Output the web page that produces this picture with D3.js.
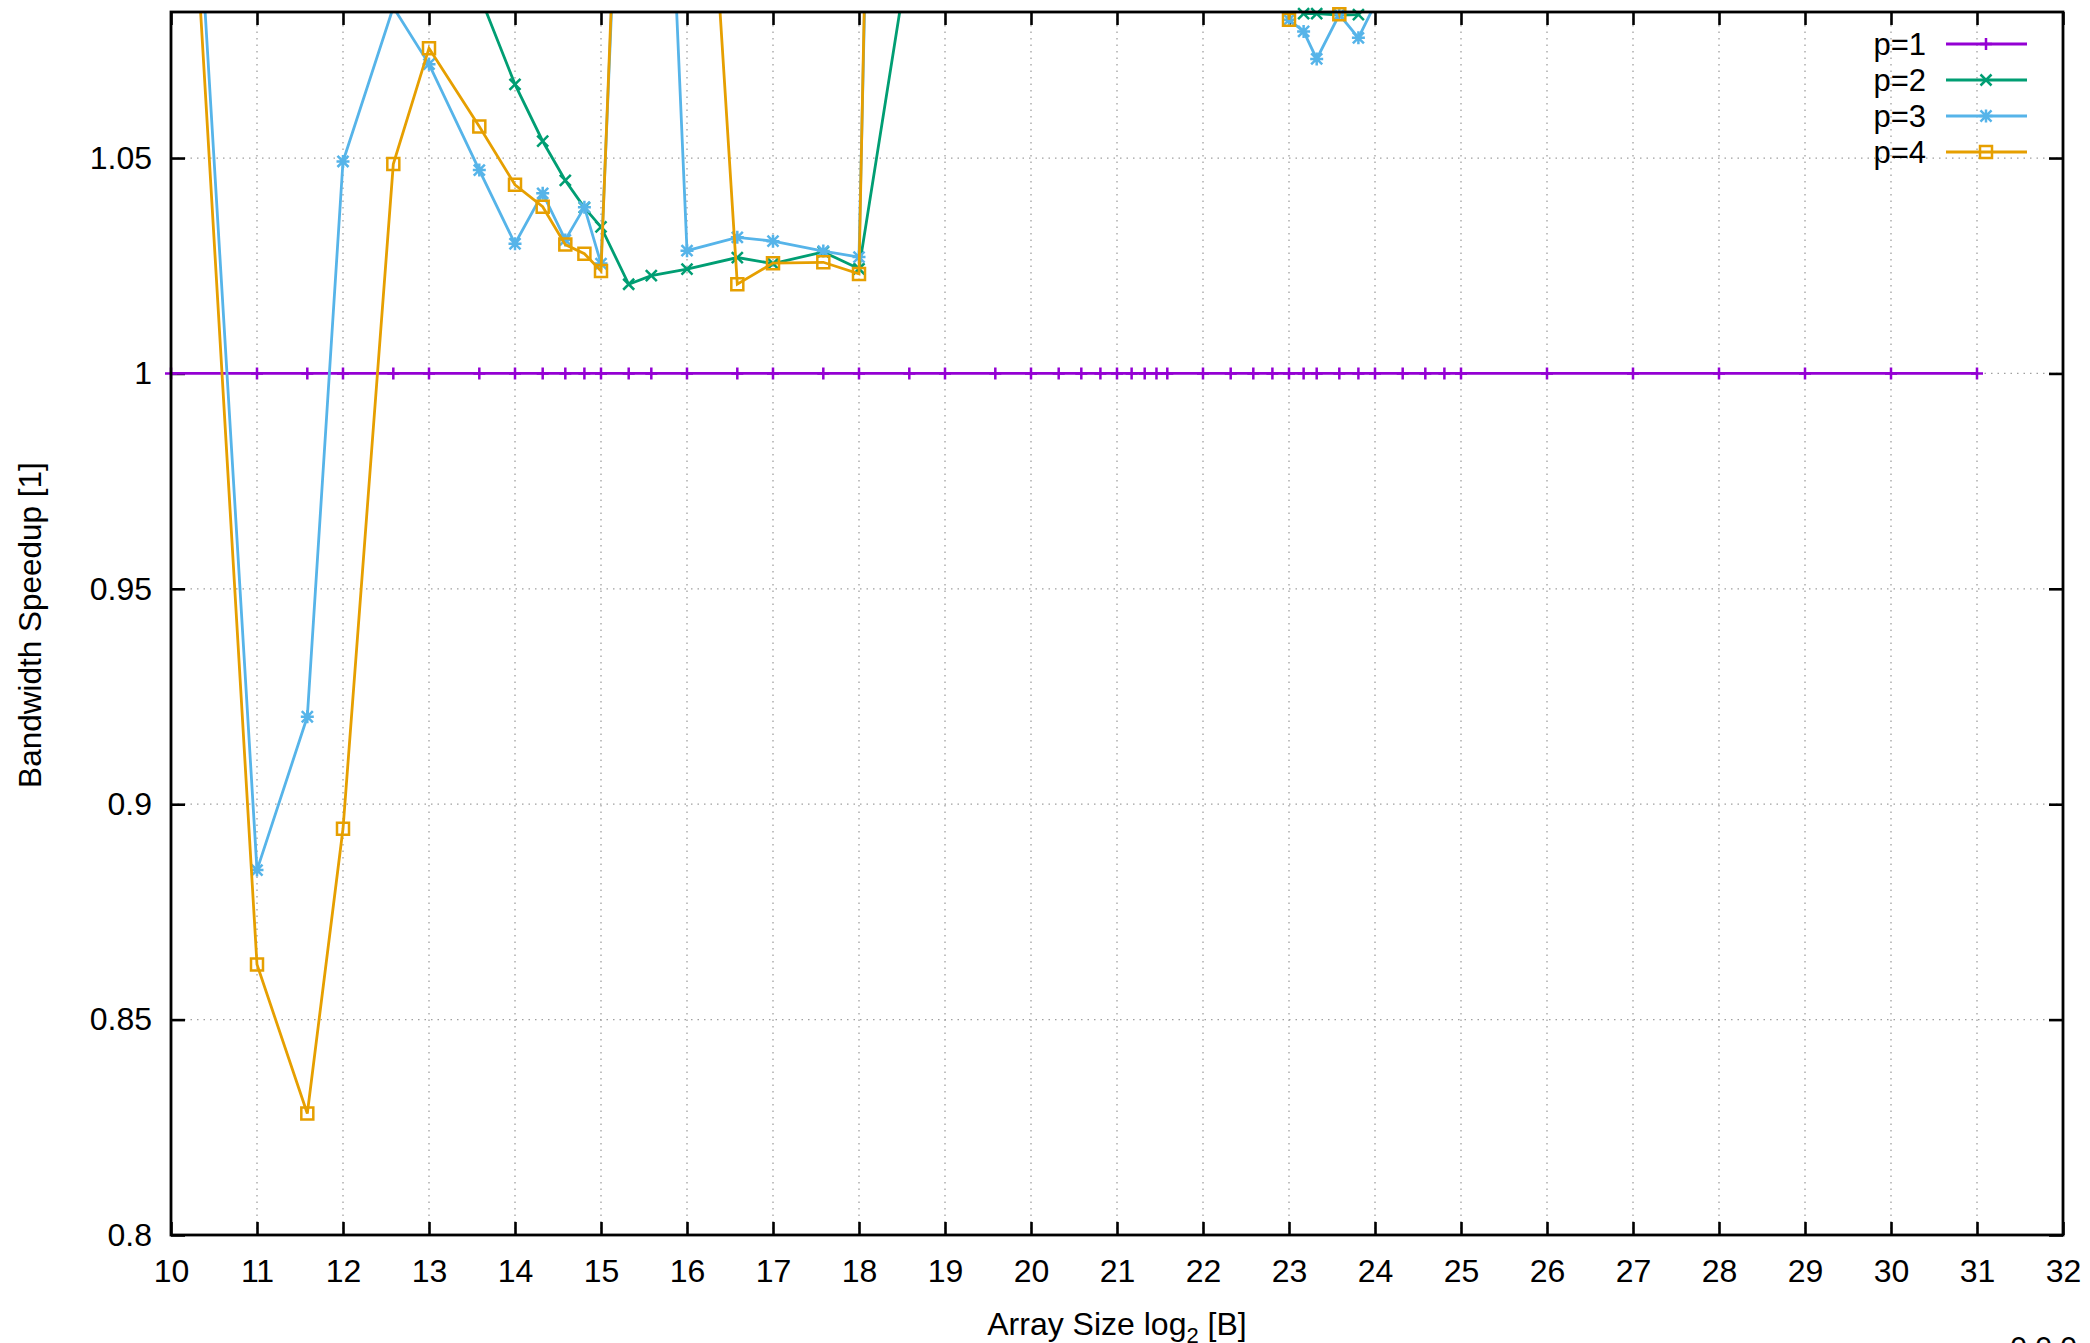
<!DOCTYPE html>
<html>
<head>
<meta charset="utf-8">
<script src="https://cdn.jsdelivr.net/npm/d3@7"></script>
<style>
  html, body { margin: 0; padding: 0; background: #fff; }
  svg { display: block; }
  text { font-family: "Liberation Sans", Arial, sans-serif; fill: #000; }
</style>
</head>
<body>
<svg id="chart" width="2090" height="1343"></svg>
<script>
// ---- data (x = log2 of array size in bytes) ----
const xs = [10, 11, 11.585, 12, 12.585, 13, 13.585, 14, 14.322, 14.585, 14.807, 15, 15.322, 15.585, 16, 16.585, 17, 17.585, 18, 18.585, 19, 19.585, 20, 20.322, 20.585, 20.807, 21, 21.17, 21.322, 21.459, 21.585, 22, 22.322, 22.585, 22.807, 23, 23.17, 23.322, 23.585, 23.807, 24, 24.322, 24.585, 24.807, 25, 26, 27, 28, 29, 30, 31];

const p1 = [1, 1, 1, 1, 1, 1, 1, 1, 1, 1, 1, 1, 1, 1, 1, 1, 1, 1, 1, 1, 1, 1, 1, 1, 1, 1, 1, 1, 1, 1, 1, 1, 1, 1, 1, 1, 1, 1, 1, 1, 1, 1, 1, 1, 1, 1, 1, 1, 1, 1, 1];

const p2 = [1.25, 1.22, 1.17, 1.15, 1.12, 1.10, 1.088, 1.0671, 1.0539, 1.0448,
            1.0385, 1.034, 1.0207, 1.0227, 1.0242, 1.0269, 1.0255, 1.0282, 1.0243, 1.098,
            1.12, 1.13, 1.15, 1.14, 1.13, 1.12, 1.13, 1.12, 1.11, 1.12,
            1.11, 1.10, 1.10, 1.095, 1.092, 1.087, 1.0835, 1.0835, 1.0832, 1.0833,
            1.088, 1.09, 1.10, 1.11, 1.12, 1.15, 1.18, 1.20, 1.21, 1.22, 1.22];

const p3 = [1.215, 0.8847, 0.9203, 1.0492, 1.085, 1.0718, 1.0472, 1.0301, 1.0418, 1.0310,
            1.0386, 1.0255, 1.18, 1.22, 1.0285, 1.0316, 1.0307, 1.0284, 1.0270, 1.55,
            1.50, 1.45, 1.40, 1.38, 1.35, 1.33, 1.30, 1.28, 1.27, 1.26,
            1.25, 1.22, 1.20, 1.18, 1.16, 1.0821, 1.0794, 1.0730, 1.0833, 1.0779,
            1.0857, 1.10, 1.12, 1.13, 1.15, 1.18, 1.20, 1.22, 1.23, 1.24, 1.24];

const p4 = [1.20, 0.8628, 0.8282, 0.8943, 1.0486, 1.0755, 1.0573, 1.0438, 1.0387, 1.0299,
            1.0278, 1.0238, 1.19, 1.22, 1.205, 1.0207, 1.0256, 1.0258, 1.0231, 1.614,
            1.58, 1.52, 1.48, 1.45, 1.42, 1.40, 1.38, 1.35, 1.33, 1.31,
            1.30, 1.26, 1.24, 1.21, 1.18, 1.0821, 1.11, 1.10, 1.0834, 1.10,
            1.12, 1.14, 1.16, 1.17, 1.19, 1.22, 1.25, 1.27, 1.28, 1.29, 1.30];

const seriesNames = ["p=1", "p=2", "p=3", "p=4"];
const seriesColors = ["#9400d3", "#009e73", "#56b4e9", "#e69f00"];
const seriesMarkers = ["plus", "cross", "star", "square"];
const xTicks = [10, 11, 12, 13, 14, 15, 16, 17, 18, 19, 20, 21, 22, 23, 24, 25, 26, 27, 28, 29, 30, 31, 32];
const yTicks = [0.8, 0.85, 0.9, 0.95, 1, 1.05];
const xTitle = "Array Size log";
const xTitleSub = "2";
const xTitleEnd = " [B]";
const yTitle = "Bandwidth Speedup [1]";

// ---- layout ----
const L = 171, R = 2063, T = 12, B = 1235;
const svg = d3.select("#chart");
const x = d3.scaleLinear().domain([10, 32]).range([L, R]);
const y = d3.scaleLinear().domain([0.8, 1.0839]).range([B, T]);

// grid
const grid = svg.append("g").attr("stroke", "#a0a0a0").attr("stroke-width", 1.3)
  .attr("stroke-dasharray", "1.5,5");
grid.selectAll(".gx").data(xTicks.slice(1, -1)).enter().append("line")
  .attr("x1", d => x(d)).attr("x2", d => x(d)).attr("y1", T).attr("y2", B);
grid.selectAll(".gy").data(yTicks.slice(1)).enter().append("line")
  .attr("x1", L).attr("x2", R).attr("y1", d => y(d)).attr("y2", d => y(d));

// axes
const fmtY = d => d3.format("")(+d.toFixed(2));
const axB = svg.append("g").attr("transform", `translate(0,${B})`)
  .call(d3.axisBottom(x).tickValues(xTicks).tickSizeInner(-13).tickSizeOuter(0).tickPadding(24).tickFormat(d3.format("d")));
const axL = svg.append("g").attr("transform", `translate(${L},0)`)
  .call(d3.axisLeft(y).tickValues(yTicks).tickSizeInner(-14).tickSizeOuter(0).tickPadding(19).tickFormat(fmtY));
const axT = svg.append("g").attr("transform", `translate(0,${T})`)
  .call(d3.axisTop(x).tickValues(xTicks).tickSizeInner(-13).tickSizeOuter(0).tickFormat(""));
const axR = svg.append("g").attr("transform", `translate(${R},0)`)
  .call(d3.axisRight(y).tickValues(yTicks).tickSizeInner(-14).tickSizeOuter(0).tickFormat(""));
[axB, axL, axT, axR].forEach(a => {
  a.select(".domain").remove();
  a.selectAll(".tick line").attr("stroke", "#000").attr("stroke-width", 2.6);
  a.selectAll(".tick text").attr("font-size", 32).attr("font-family", "Liberation Sans, Arial, sans-serif").attr("fill", "#000");
});

// clip
svg.append("clipPath").attr("id", "clip").append("rect")
  .attr("x", L).attr("y", T).attr("width", R - L).attr("height", B - T);

// marker paths
function markerPath(type, s) {
  if (type === "plus") return `M${-s},0H${s}M0,${-s}V${s}`;
  if (type === "cross") return `M${-s},${-s}L${s},${s}M${-s},${s}L${s},${-s}`;
  if (type === "star") { const c = s * 0.85; return `M${-s},0H${s}M0,${-s}V${s}M${-c},${-c}L${c},${c}M${-c},${c}L${c},${-c}`; }
  if (type === "square") return `M${-s},${-s}H${s}V${s}H${-s}Z`;
}
const markerSize = { plus: 6, cross: 5.5, star: 6.5, square: 6 };

const allSeries = [p1, p2, p3, p4];
const lineGen = d3.line().x(d => x(d[0])).y(d => y(d[1])).defined(d => d[1] != null);
const yMin = y.domain()[0], yMax = y.domain()[1];

allSeries.forEach((vals, i) => {
  const pts = xs.map((xv, j) => [xv, vals[j]]);
  const g = svg.append("g");
  g.append("path").datum(pts).attr("d", lineGen).attr("fill", "none")
    .attr("stroke", seriesColors[i]).attr("stroke-width", 2.8)
    .attr("stroke-linejoin", "miter").attr("clip-path", "url(#clip)");
  const visible = pts.filter(d => d[1] != null && d[1] >= yMin && d[1] <= yMax);
  g.selectAll("path.m").data(visible).enter().append("path").attr("class", "m")
    .attr("transform", d => `translate(${x(d[0])},${y(d[1])})`)
    .attr("d", markerPath(seriesMarkers[i], markerSize[seriesMarkers[i]]))
    .attr("fill", "none").attr("stroke", seriesColors[i]).attr("stroke-width", 2.5);
});

// border
svg.append("rect").attr("x", L).attr("y", T).attr("width", R - L).attr("height", B - T)
  .attr("fill", "none").attr("stroke", "#000").attr("stroke-width", 2.8);

// legend
const leg = svg.append("g");
seriesNames.forEach((name, i) => {
  const cy = 44 + i * 36;
  leg.append("text").attr("x", 1926).attr("y", cy + 11).attr("text-anchor", "end")
    .attr("font-size", 31).text(name);
  leg.append("line").attr("x1", 1946).attr("x2", 2027).attr("y1", cy).attr("y2", cy)
    .attr("stroke", seriesColors[i]).attr("stroke-width", 2.8);
  leg.append("path").attr("transform", `translate(1986,${cy})`)
    .attr("d", markerPath(seriesMarkers[i], markerSize[seriesMarkers[i]]))
    .attr("fill", "none").attr("stroke", seriesColors[i]).attr("stroke-width", 2.5);
});

// axis titles
const xt = svg.append("text").attr("x", (L + R) / 2).attr("y", 1335).attr("text-anchor", "middle")
  .attr("font-size", 32);
xt.append("tspan").text(xTitle);
xt.append("tspan").attr("font-size", 22).attr("dy", 8).text(xTitleSub);
xt.append("tspan").attr("dy", -8).text(xTitleEnd);

svg.append("text").attr("transform", `translate(41,625) rotate(-90)`).attr("text-anchor", "middle")
  .attr("font-size", 31.5).text(yTitle);

// cut-off footer text
svg.append("text").attr("x", 2077).attr("y", 1357).attr("text-anchor", "end")
  .attr("font-size", 30).text("0.0.0");
</script>
</body>
</html>
